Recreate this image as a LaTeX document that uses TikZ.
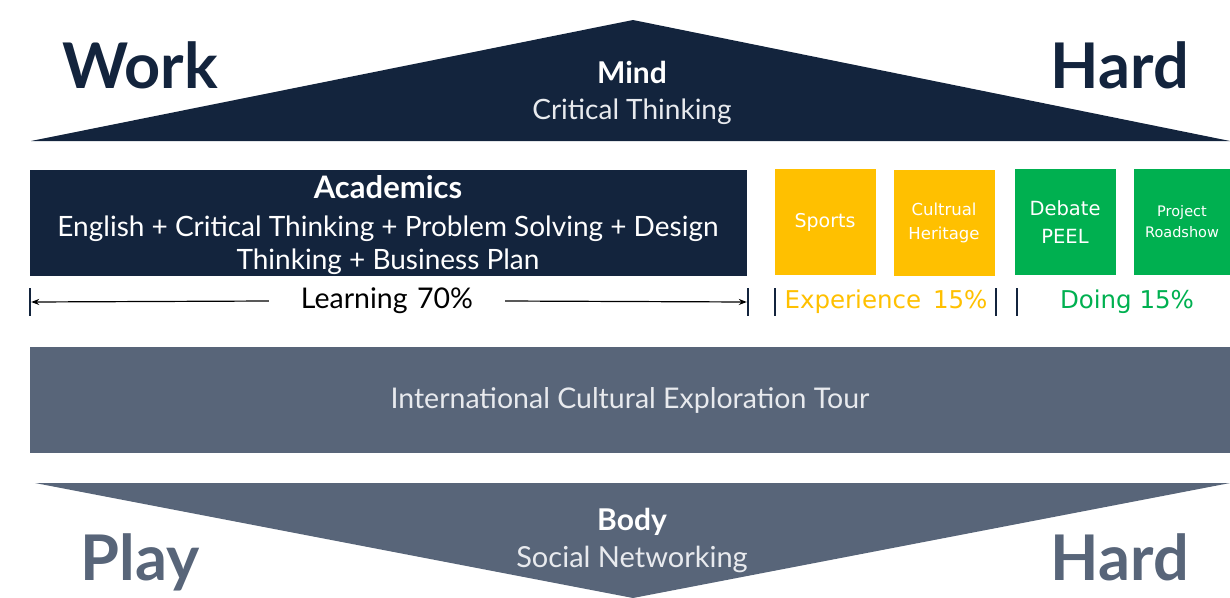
\documentclass[tikz,border=0pt]{standalone}
\usepackage{fontspec}
\setmainfont{Lato}
\newfontfamily\boxfont{DejaVu Sans}
\usetikzlibrary{positioning,arrows.meta}

\definecolor{navy}{HTML}{13243D}
\definecolor{slate}{HTML}{586579}
\definecolor{amber}{HTML}{FFC000}
\definecolor{leaf}{HTML}{00B050}
\definecolor{paper}{HTML}{E8EAEE}

\tikzset{
  motto/.style={anchor=base, font=\bfseries\fontsize{63}{63}\selectfont},
  tile/.style={fill=#1, minimum width=101pt, minimum height=106pt,
    inner sep=0pt, text=white, align=center},
  bar/.style={fill=navy, minimum width=2pt, minimum height=28pt, inner sep=0pt},
  share/.style={font=\boxfont\fontsize{24.5}{24.5}\selectfont}
}

\begin{document}
\begin{tikzpicture}[x=1pt, y=-1pt]
  \useasboundingbox (0,0) rectangle (1230,597);

  % mind on top
  \fill[navy] (31,141) -- (633,20) -- (1230,141) -- cycle;
  \node[text=white, font=\bfseries\fontsize{30}{30}\selectfont, anchor=base] (mind) at (632,83) {Mind};
  \node[text=paper, font=\fontsize{28}{28}\selectfont, anchor=base] (think) at (632,119) {Critical Thinking};
  \node[motto, text=navy] (work) at (140,88) {Work};
  \node[motto, text=navy] (hard1) at (1120,88) {Hard};

  % academics and activities
  \node[fill=navy, minimum width=717pt, minimum height=106pt, inner sep=0pt] (acad) at (388.5,223) {};
  \node[text=white, font=\bfseries\fontsize{31}{31}\selectfont, anchor=base] (acadt) at (388,198) {Academics};
  \node[text=white, font=\fontsize{28}{33}\selectfont, align=center, anchor=base] (subj) at (388,269)
    {English + Critical Thinking + Problem Solving + Design\\ Thinking + Business Plan};

  \node[tile=amber, font=\boxfont\fontsize{19}{23}\selectfont] (sports) at (825,222) {Sports};
  \node[tile=amber, font=\boxfont\fontsize{16.5}{24}\selectfont] (heritage) at (944,223) {Cultrual\\Heritage};
  \node[tile=leaf, font=\boxfont\fontsize{19.5}{28}\selectfont] (debate) at (1065,222) {Debate\\PEEL};
  \node[tile=leaf, minimum width=96pt, font=\boxfont\fontsize{14.5}{21}\selectfont] (roadshow) at (1182,222) {Project\\Roadshow};

  % shares
  \node[bar] (b1) at (30,302) {};
  \node[bar] (b2) at (748,302) {};
  \node[bar] (b3) at (775,302) {};
  \node[bar] (b4) at (996,302) {};
  \node[bar] (b5) at (1017,302) {};
  \node[font=\fontsize{28.5}{28.5}\selectfont, inner xsep=32pt] (learn) at (387,301) {Learning\,\,70\%};
  \draw[-{Stealth[length=8pt,width=6pt]}, line width=1.2pt] (learn.west) -- (b1.east);
  \draw[-{Stealth[length=8pt,width=6pt]}, line width=1.2pt] (learn.east) -- (b2.west);
  \node[share, text=amber] (exp) at (886,302) {Experience\, 15\%};
  \node[share, text=leaf] (doing) at (1127,302) {Doing 15\%};

  % tour band
  \node[fill=slate, minimum width=1200pt, minimum height=106pt, inner sep=0pt,
    text=paper, font=\fontsize{28.5}{28.5}\selectfont] (tour) at (630,400) {International Cultural Exploration Tour};

  % body at the bottom
  \fill[slate] (35,483) -- (1230,483) -- (633,598) -- cycle;
  \node[text=white, font=\bfseries\fontsize{30}{30}\selectfont, anchor=base] (body) at (632,530) {Body};
  \node[text=paper, font=\fontsize{29}{29}\selectfont, anchor=base] (social) at (632,567) {Social Networking};
  \node[motto, text=slate] (play) at (140,580) {Play};
  \node[motto, text=slate] (hard2) at (1120,580) {Hard};
\end{tikzpicture}
\end{document}
